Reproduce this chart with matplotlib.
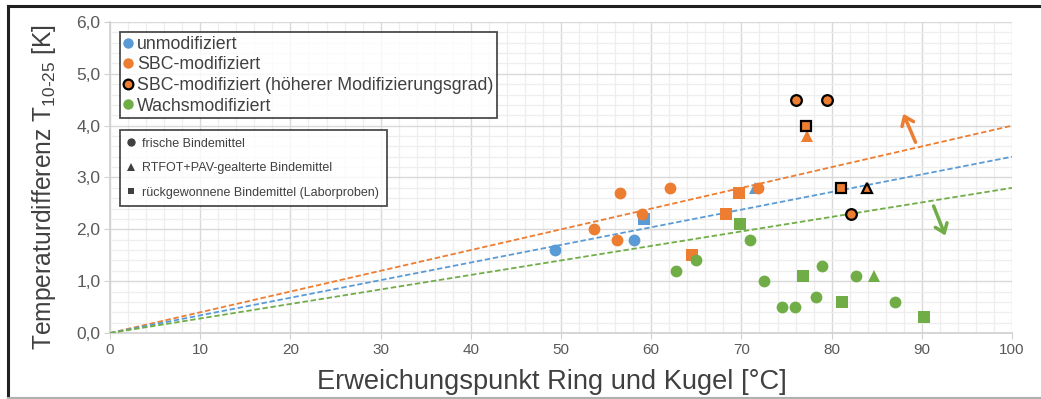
import matplotlib.pyplot as plt
from matplotlib import font_manager
from matplotlib.lines import Line2D
from matplotlib.ticker import MultipleLocator, FuncFormatter

BLUE = "#5B9BD5"
ORANGE = "#ED7D31"
GREEN = "#70AD47"
GREY_TXT = "#595959"

# unmodifiziert
unmod_circ_x = [49.3, 58.1]
unmod_circ_y = [1.6, 1.8]
unmod_sq_x = [59.2]
unmod_sq_y = [2.2]
unmod_tri_x = [71.5]
unmod_tri_y = [2.8]

# SBC-modifiziert
sbc_circ_x = [53.6, 56.2, 56.5, 59.0, 62.1, 71.8]
sbc_circ_y = [2.0, 1.8, 2.7, 2.3, 2.8, 2.8]
sbc_sq_x = [64.5, 68.3, 69.7]
sbc_sq_y = [1.5, 2.3, 2.7]
sbc_tri_x = [77.3]
sbc_tri_y = [3.8]

# SBC-modifiziert (hoeherer Modifizierungsgrad)
sbch_circ_x = [76.1, 79.5, 82.2]
sbch_circ_y = [4.5, 4.5, 2.3]
sbch_sq_x = [77.2, 81.0]
sbch_sq_y = [4.0, 2.8]
sbch_tri_x = [83.9]
sbch_tri_y = [2.8]

# Wachsmodifiziert
wax_circ_x = [62.7, 65.0, 71.0, 72.5, 74.5, 75.9, 78.3, 78.9, 82.7, 87.0]
wax_circ_y = [1.2, 1.4, 1.8, 1.0, 0.5, 0.5, 0.7, 1.3, 1.1, 0.6]
wax_sq_x = [69.8, 76.8, 81.2, 90.2]
wax_sq_y = [2.1, 1.1, 0.6, 0.3]
wax_tri_x = [84.7]
wax_tri_y = [1.1]

# Trendlinien durch den Ursprung (Steigung K/°C)
trend_x = [0, 100]
slope_sbc = 0.040
slope_unmod = 0.034
slope_wax = 0.028

plt.rcParams["font.family"] = ["Liberation Sans", "DejaVu Sans"]
installed = {f.name for f in font_manager.fontManager.ttflist}
HAS_NARROW = "Liberation Sans Narrow" in installed

fig = plt.figure(figsize=(10.41, 3.99), dpi=100, facecolor="white")
ax = fig.add_axes([0.1057, 0.1654, 0.8665, 0.7795])

ms_c, ms_s, ms_t = 8.5, 8.0, 8.5

for slope, col in [(slope_sbc, ORANGE), (slope_unmod, BLUE), (slope_wax, GREEN)]:
    ax.plot(trend_x, [slope * v for v in trend_x], ls=(0, (3, 1.5)), lw=1.3,
            color=col, zorder=3)

def pts(x, y, marker, color, ms, edge=None):
    ax.plot(x, y, ls="none", marker=marker, ms=ms, color=color,
            mec=edge if edge else color, mew=1.6 if edge else 0, zorder=4)

pts(unmod_tri_x, unmod_tri_y, "^", BLUE, ms_t)
pts(unmod_circ_x, unmod_circ_y, "o", BLUE, ms_c)
pts(unmod_sq_x, unmod_sq_y, "s", BLUE, ms_s)

pts(sbc_circ_x, sbc_circ_y, "o", ORANGE, ms_c)
pts(sbc_sq_x, sbc_sq_y, "s", ORANGE, ms_s)
pts(sbc_tri_x, sbc_tri_y, "^", ORANGE, ms_t)

pts(sbch_circ_x, sbch_circ_y, "o", ORANGE, ms_c - 0.8, edge="black")
pts(sbch_sq_x, sbch_sq_y, "s", ORANGE, ms_s - 0.8, edge="black")
pts(sbch_tri_x, sbch_tri_y, "^", ORANGE, ms_t - 0.8, edge="black")

pts(wax_circ_x, wax_circ_y, "o", GREEN, ms_c)
pts(wax_sq_x, wax_sq_y, "s", GREEN, ms_s)
pts(wax_tri_x, wax_tri_y, "^", GREEN, ms_t)

# Pfeile an den Trendlinien
arrow = dict(arrowstyle="->,head_width=0.45,head_length=0.6", lw=2.5,
             shrinkA=0, shrinkB=0)
ax.annotate("", xy=(87.95, 4.23), xytext=(89.3, 3.68),
            arrowprops=dict(color=ORANGE, **arrow))
ax.annotate("", xy=(92.6, 1.88), xytext=(91.3, 2.45),
            arrowprops=dict(color=GREEN, **arrow))

ax.set_xlim(0, 100)
ax.set_ylim(0, 6)
ax.xaxis.set_major_locator(MultipleLocator(10))
ax.xaxis.set_minor_locator(MultipleLocator(2))
ax.yaxis.set_major_locator(MultipleLocator(1))
ax.yaxis.set_minor_locator(MultipleLocator(0.2))
ax.yaxis.set_major_formatter(FuncFormatter(lambda v, p: f"{v:.1f}".replace(".", ",")))
ax.grid(which="major", color="#d9d9d9", lw=1.0, zorder=0)
ax.grid(which="minor", color="#eeeeee", lw=0.9, zorder=0)
ax.set_axisbelow(True)
for side in ["top", "right"]:
    ax.spines[side].set_visible(False)
for side in ["left", "bottom"]:
    ax.spines[side].set_color("#d0d0d0")
    ax.spines[side].set_linewidth(1.2)
ax.tick_params(which="major", length=4, pad=3, color="#d0d0d0",
               labelcolor=GREY_TXT)
ax.tick_params(axis="y", labelsize=12.5)
ax.tick_params(axis="x", labelsize=11)
ax.tick_params(which="minor", length=0)

ax.set_xlabel("Erweichungspunkt Ring und Kugel [°C]", fontsize=19.6,
              color="#404040")
ax.xaxis.set_label_coords(0.49, -0.115)
ax.set_ylabel(r"Temperaturdifferenz T$_{\mathregular{10‐25}}$ [K]", fontsize=17.7,
              color="#404040")
ax.yaxis.set_label_coords(-0.058, 0.47)

# Legende: Bindemittelart (Farbe)
h1 = [Line2D([], [], ls="none", marker="o", ms=7.5, color=BLUE, mew=0),
      Line2D([], [], ls="none", marker="o", ms=7.5, color=ORANGE, mew=0),
      Line2D([], [], ls="none", marker="o", ms=7, color=ORANGE, mec="black", mew=1.6),
      Line2D([], [], ls="none", marker="o", ms=7.5, color=GREEN, mew=0)]
l1 = ["unmodifiziert", "SBC-modifiziert",
      "SBC-modifiziert (höherer Modifizierungsgrad)", "Wachsmodifiziert"]
leg1 = ax.legend(h1, l1, loc="upper left", bbox_to_anchor=(0.011, 0.968),
                 frameon=True, fancybox=False, edgecolor="#202020",
                 fontsize=12.8, handlelength=0.5, handletextpad=0.25,
                 labelspacing=0.2, borderpad=0.22, borderaxespad=0,
                 labelcolor="#404040")
leg1.get_frame().set_linewidth(1.3)
ax.add_artist(leg1)

# Legende: Alterungszustand (Symbol)
h2 = [Line2D([], [], ls="none", marker="o", ms=6, color="#404040", mew=0),
      Line2D([], [], ls="none", marker="^", ms=6, color="#404040", mew=0),
      Line2D([], [], ls="none", marker="s", ms=5, color="#404040", mew=0)]
l2 = ["frische Bindemittel", "RTFOT+PAV-gealterte Bindemittel",
      "rückgewonnene Bindemittel (Laborproben)"]
if HAS_NARROW:
    leg2_font = {"family": ["Liberation Sans Narrow", "Liberation Sans"], "size": 10.5}
    leg2_space = 0.69
else:
    leg2_font = {"family": ["Liberation Sans", "DejaVu Sans"], "size": 9}
    leg2_space = 1.0
leg2 = ax.legend(h2, l2, loc="upper left", bbox_to_anchor=(0.011, 0.652),
                 frameon=True, fancybox=False, edgecolor="#202020",
                 prop=leg2_font, handlelength=0.6, handletextpad=0.6,
                 labelspacing=leg2_space, borderpad=0.6, borderaxespad=0,
                 labelcolor="#404040")
leg2.get_frame().set_linewidth(1.3)

# Rahmen des Diagramms
fig.add_artist(Line2D([0.008, 1.0], [0.984, 0.984], color="#202020", lw=2.2,
                      transform=fig.transFigure))
fig.add_artist(Line2D([0.008, 0.008], [0.0, 0.984], color="#202020", lw=2.2,
                      transform=fig.transFigure))
fig.add_artist(Line2D([0.008, 1.0], [0.003, 0.003], color="#b0b0b0", lw=1.5,
                      transform=fig.transFigure))

fig.savefig("out.png", dpi=100, facecolor="white")
